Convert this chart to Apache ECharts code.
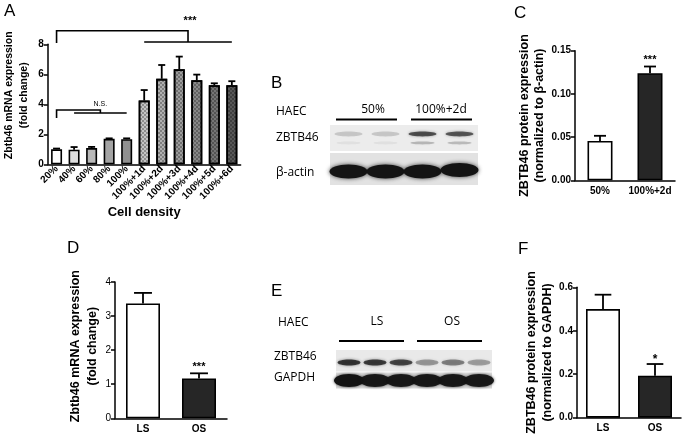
<!DOCTYPE html>
<html>
<head>
<meta charset="utf-8">
<script src="https://cdn.jsdelivr.net/npm/echarts@6/dist/echarts.min.js"></script>
<style>
  html, body { margin: 0; padding: 0; background: #fff; }
  #chart { width: 685px; height: 436px; }
</style>
</head>
<body>
<div id="chart"></div>
<script>
const FONT = '"Liberation Sans", Arial, sans-serif';
const BLOT_FONT = '"Open Sans", "Noto Sans", sans-serif';

// A - Zbtb46 mRNA vs cell density
const catsA = ['20%', '40%', '60%', '80%', '100%', '100%+1d', '100%+2d', '100%+3d', '100%+4d', '100%+5d', '100%+6d'];
const meanA = [1.0, 0.97, 1.08, 1.7, 1.67, 4.25, 5.7, 6.33, 5.6, 5.27, 5.27];
const semA = [0.05, 0.18, 0.08, 0.03, 0.06, 0.7, 0.92, 0.85, 0.38, 0.13, 0.27];
const fillA = ['#ffffff', '#dedede', '#b8b8b8', '#a4a4a4', '#909090', '#c4c4c4', '#b0b0b0', '#9c9c9c', '#888888', '#747474', '#585858'];
const checkerA = [false, false, false, false, false, true, true, true, true, true, true];
// significance brackets: left leg at bracketLeft, right leg at middle of [bracketFrom, bracketTo]
const bracketLeft = [0, 0];
const bracketFrom = [5, 1];
const bracketTo = [10, 4];
const bracketTop = [8.9, 3.62];
const bracketLegEnd = [8.08, 3.09];
const bracketLine = [8.15, 3.42];
const bracketText = ['***', 'N.S.'];

// C - ZBTB46 protein (normalized to beta-actin)
const catsC = ['50%', '100%+2d'];
const meanC = [0.0455, 0.124];
const semC = [0.006, 0.0077];
const sigC = ['', '***'];

// D - Zbtb46 mRNA, LS vs OS
const catsD = ['LS', 'OS'];
const meanD = [3.37, 1.17];
const semD = [0.31, 0.15];
const sigD = ['', '***'];

// F - ZBTB46 protein (normalized to GAPDH)
const catsF = ['LS', 'OS'];
const meanF = [0.5, 0.193];
const semF = [0.066, 0.054];
const sigF = ['', '*'];

const fillsLSOS = ['#ffffff', '#262626'];

// western blot band intensities (0..1)
const blotB_zbtb46 = [0.16, 0.16, 0.66, 0.62];
const blotB_actin = [1, 1, 1, 1];
const blotE_zbtb46 = [0.78, 0.75, 0.7, 0.35, 0.45, 0.32];
const blotE_gapdh = [1, 0.95, 0.95, 0.95, 0.95, 0.95];

const chart = echarts.init(document.getElementById('chart'), null, { renderer: 'canvas' });

const axisLine = { show: true, lineStyle: { color: '#000', width: 1.5 } };

const yAxisBase = (min, max, interval, fmt, bold, name, gap, nameSize, lineH, shiftUp) => ({
  type: 'value', min, max, interval,
  axisLine,
  axisTick: { show: true, length: 4, lineStyle: { color: '#000', width: 1.5 } },
  splitLine: { show: false },
  axisLabel: {
    color: '#000', fontFamily: FONT, fontSize: 10, fontWeight: bold ? 'bold' : 'normal', margin: 4,
    formatter: (v) => fmt(v)
  },
  name, nameLocation: 'middle', nameRotate: 90, nameGap: gap,
  nameTextStyle: {
    color: '#000', fontFamily: FONT, fontSize: nameSize, fontWeight: 'bold', lineHeight: lineH,
    padding: [0, 0, 0, shiftUp * 2]
  }
});

const xAxisBase = (cats, rotate) => ({
  type: 'category', data: cats,
  axisLine,
  axisTick: { show: false },
  axisLabel: { color: '#000', fontFamily: FONT, fontSize: 10, fontWeight: 'bold', rotate, margin: rotate ? 3 : 6, interval: 0 }
});

const errorBars = (sig, capRatio, lineWidth, sigFont, sigGap) => (params, api) => {
  const i = api.value(0), m = api.value(1), e = api.value(2);
  const base = api.coord([i, m]);
  const top = api.coord([i, m + e]);
  const cap = api.size([1, 0])[0] * capRatio;
  const kids = [
    { type: 'line', shape: { x1: base[0], y1: base[1], x2: top[0], y2: top[1] }, style: { stroke: '#000', lineWidth } },
    { type: 'line', shape: { x1: top[0] - cap / 2, y1: top[1], x2: top[0] + cap / 2, y2: top[1] }, style: { stroke: '#000', lineWidth } }
  ];
  const s = sig[params.dataIndex];
  if (s) {
    kids.push({ type: 'text', x: top[0], y: top[1] - sigGap,
      style: { text: s, fill: '#000', font: sigFont, align: 'center', verticalAlign: 'bottom' } });
  }
  return { type: 'group', children: kids };
};

const bracketItem = (params, api) => {
  const k = params.dataIndex;
  const l0 = api.coord([bracketLeft[k], bracketTop[k]]);
  const l1 = api.coord([bracketLeft[k], bracketLegEnd[k]]);
  const g0 = api.coord([bracketFrom[k], bracketLine[k]]);
  const g1 = api.coord([bracketTo[k], bracketLine[k]]);
  const xm = (g0[0] + g1[0]) / 2;
  const st = { stroke: '#000', lineWidth: 1.6 };
  const big = bracketText[k] === '***';
  return {
    type: 'group', children: [
      { type: 'polyline', shape: { points: [[l1[0], l1[1]], [l0[0], l0[1]], [xm, l0[1]], [xm, g0[1]]] }, style: { ...st, fill: null } },
      { type: 'line', shape: { x1: g0[0], y1: g0[1], x2: g1[0], y2: g1[1] }, style: st },
      { type: 'text', x: xm + (big ? 2 : 0), y: l0[1] - (big ? 4 : 2),
        style: { text: bracketText[k], fill: '#000', align: 'center', verticalAlign: 'bottom',
          font: big ? 'bold 11px ' + FONT : '7px ' + FONT } }
    ]
  };
};

const checkerDecal = {
  symbol: 'rect', symbolSize: 1, rotation: 0,
  dashArrayX: [[2, 2], [0, 2, 2, 0]], dashArrayY: [2, 0],
  color: 'rgba(0,0,0,0.28)'
};

// blot helpers
const blotGraphics = (x0, width, strips, lanes) => {
  const out = [];
  const pitch = width / lanes;
  strips.forEach((s) => {
    out.push({ type: 'rect', shape: { x: x0, y: s.y, width, height: s.h }, style: { fill: s.bg }, z: 1 });
    s.values.forEach((v, i) => {
      const cx = x0 + pitch * (i + 0.5);
      s.bands.forEach((b) => {
        out.push({
          type: 'ellipse', z: 2,
          shape: { cx, cy: s.y + b.dy + (b.shift ? b.shift[i] : 0), rx: b.rx, ry: b.ry },
          style: { fill: 'rgba(20,20,20,' + (v * b.k).toFixed(3) + ')', shadowBlur: b.blur, shadowColor: 'rgba(20,20,20,' + (v * b.k * 0.8).toFixed(3) + ')' }
        });
      });
    });
  });
  return out;
};

const txt = (x, y, text, font, align) => ({
  type: 'text', x, y, z: 5,
  style: { text, font, fill: '#000', align: align || 'left', verticalAlign: 'middle' }
});

const graphic = [
  txt(4, 11, 'A', '17px ' + FONT),
  txt(271, 83, 'B', '17px ' + FONT),
  txt(514, 13, 'C', '17px ' + FONT),
  txt(67, 248, 'D', '17px ' + FONT),
  txt(271, 291, 'E', '17px ' + FONT),
  txt(518, 249, 'F', '17px ' + FONT),
  // B labels
  txt(276, 112, 'HAEC', '12px ' + BLOT_FONT),
  txt(373, 110, '50%', '12px ' + BLOT_FONT, 'center'),
  txt(441, 110, '100%+2d', '12px ' + BLOT_FONT, 'center'),
  txt(276, 138, 'ZBTB46', '12px ' + BLOT_FONT),
  txt(276, 173, 'β-actin', '12px ' + BLOT_FONT),
  { type: 'line', shape: { x1: 336, y1: 119.5, x2: 397, y2: 119.5 }, style: { stroke: '#000', lineWidth: 2 } },
  { type: 'line', shape: { x1: 411, y1: 119.5, x2: 472, y2: 119.5 }, style: { stroke: '#000', lineWidth: 2 } },
  ...blotGraphics(330, 148, [
    { y: 125, h: 26, bg: '#ececec', values: blotB_zbtb46,
      bands: [{ dy: 9, rx: 14, ry: 2.4, k: 1, blur: 3 }, { dy: 18, rx: 12, ry: 1.4, k: 0.35, blur: 3 }] },
    { y: 153, h: 32, bg: '#e2e2e2', values: blotB_actin,
      bands: [{ dy: 18.5, rx: 19, ry: 7, k: 1, blur: 4, shift: [0, 0, 0, -1.5] }] }
  ], 4),
  // E labels
  txt(278, 323, 'HAEC', '12px ' + BLOT_FONT),
  txt(377, 322, 'LS', '12px ' + BLOT_FONT, 'center'),
  txt(452, 322, 'OS', '12px ' + BLOT_FONT, 'center'),
  txt(274, 357, 'ZBTB46', '12px ' + BLOT_FONT),
  txt(274, 378, 'GAPDH', '12px ' + BLOT_FONT),
  { type: 'line', shape: { x1: 339, y1: 341, x2: 404, y2: 341 }, style: { stroke: '#000', lineWidth: 2 } },
  { type: 'line', shape: { x1: 417, y1: 341, x2: 482, y2: 341 }, style: { stroke: '#000', lineWidth: 2 } },
  ...blotGraphics(336, 156, [
    { y: 350, h: 21.5, bg: '#e9e9e9', values: blotE_zbtb46,
      bands: [{ dy: 12.5, rx: 11.5, ry: 3, k: 1, blur: 3 }] },
    { y: 372.5, h: 16, bg: '#d8d8d8', values: blotE_gapdh,
      bands: [{ dy: 8, rx: 15, ry: 6.5, k: 1, blur: 3 }] }
  ], 6)
];

const option = {
  animation: false,
  backgroundColor: '#fff',
  textStyle: { fontFamily: FONT },
  graphic,
  grid: [
    { left: 47, top: 44.3, width: 193.6, height: 120 },
    { left: 575, top: 50.7, width: 100, height: 129.6 },
    { left: 115, top: 282, width: 112, height: 136.3 },
    { left: 577, top: 287.3, width: 104, height: 130.4 }
  ],
  xAxis: [
    { ...xAxisBase(catsA, 45), gridIndex: 0, name: 'Cell density', nameLocation: 'middle', nameGap: 42,
      nameTextStyle: { color: '#000', fontFamily: FONT, fontSize: 13, fontWeight: 'bold' } },
    { ...xAxisBase(catsC, 0), gridIndex: 1 },
    { ...xAxisBase(catsD, 0), gridIndex: 2 },
    { ...xAxisBase(catsF, 0), gridIndex: 3 }
  ],
  yAxis: [
    { ...yAxisBase(0, 8, 2, (v) => String(v), true, 'Zbtb46 mRNA expression\n(fold change)', 16, 10.5, 15.4, 9), gridIndex: 0 },
    { ...yAxisBase(0, 0.15, 0.05, (v) => v.toFixed(2), true, 'ZBTB46 protein expression\n(normalized to β-actin)', 25.5, 12.5, 15.7, 0), gridIndex: 1 },
    { ...yAxisBase(0, 4, 1, (v) => String(v), false, 'Zbtb46 mRNA expression\n(fold change)', 11.5, 12.5, 17, 4), gridIndex: 2 },
    { ...yAxisBase(0, 0.6, 0.2, (v) => v.toFixed(1), true, 'ZBTB46 protein expression\n(normalized to GAPDH)', 22.3, 12.5, 15.3, 0), gridIndex: 3 }
  ],
  series: [
    {
      type: 'bar', xAxisIndex: 0, yAxisIndex: 0, barWidth: 11,
      data: meanA.map((v, i) => ({
        value: v,
        itemStyle: Object.assign({ color: fillA[i], borderColor: '#000', borderWidth: 1.6 },
          checkerA[i] ? { decal: checkerDecal } : {})
      }))
    },
    {
      type: 'custom', xAxisIndex: 0, yAxisIndex: 0, z: 3,
      renderItem: errorBars([], 0.4, 1.8, '', 0),
      data: meanA.map((v, i) => [i, v, semA[i]])
    },
    {
      type: 'custom', xAxisIndex: 0, yAxisIndex: 0, z: 3, clip: false,
      renderItem: bracketItem,
      data: bracketLeft.map((l, k) => [l, bracketTop[k]])
    },
    {
      type: 'bar', xAxisIndex: 1, yAxisIndex: 1, barWidth: 25,
      data: meanC.map((v, i) => ({ value: v, itemStyle: { color: fillsLSOS[i], borderColor: '#000', borderWidth: 1.6 } }))
    },
    {
      type: 'custom', xAxisIndex: 1, yAxisIndex: 1, z: 3,
      renderItem: errorBars(sigC, 0.24, 1.8, 'bold 11px ' + FONT, 1),
      data: meanC.map((v, i) => [i, v, semC[i]])
    },
    {
      type: 'bar', xAxisIndex: 2, yAxisIndex: 2, barWidth: 34,
      data: meanD.map((v, i) => ({ value: v, itemStyle: { color: fillsLSOS[i], borderColor: '#000', borderWidth: 1.6 } }))
    },
    {
      type: 'custom', xAxisIndex: 2, yAxisIndex: 2, z: 3,
      renderItem: errorBars(sigD, 0.32, 1.8, 'bold 11px ' + FONT, 1),
      data: meanD.map((v, i) => [i, v, semD[i]])
    },
    {
      type: 'bar', xAxisIndex: 3, yAxisIndex: 3, barWidth: 34,
      data: meanF.map((v, i) => ({ value: v, itemStyle: { color: fillsLSOS[i], borderColor: '#000', borderWidth: 1.6 } }))
    },
    {
      type: 'custom', xAxisIndex: 3, yAxisIndex: 3, z: 3,
      renderItem: errorBars(sigF, 0.32, 1.8, 'bold 12px ' + FONT, -2),
      data: meanF.map((v, i) => [i, v, semF[i]])
    }
  ]
};

chart.setOption(option);
</script>
</body>
</html>
